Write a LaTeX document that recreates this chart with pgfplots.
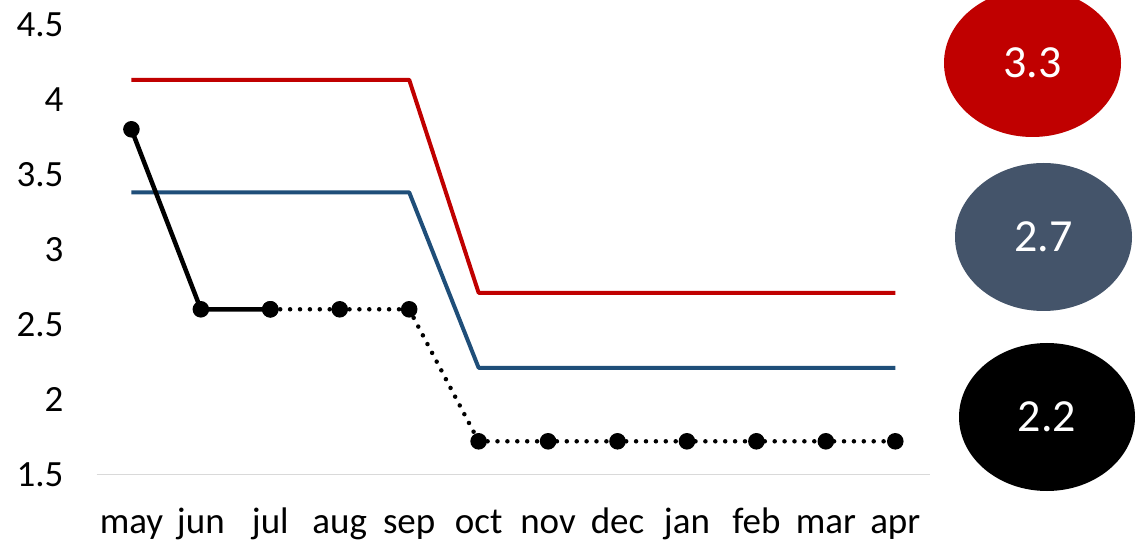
\documentclass[border=0pt]{standalone}
\usepackage{fontspec}
\setmainfont{Carlito}
\usepackage{pgfplots}
\pgfplotsset{compat=1.18}
\usetikzlibrary{shapes.geometric}
\definecolor{cred}{HTML}{C00000}
\definecolor{cblue}{HTML}{1F4E79}
\definecolor{cslate}{HTML}{44546A}
\definecolor{caxis}{HTML}{D9D9D9}
\begin{document}
\begin{tikzpicture}[x=1pt,y=1pt]
\useasboundingbox (0,0) rectangle (1136,-545);
\begin{axis}[
  at={(96.7pt,-474.3pt)}, anchor=south west,
  scale only axis, width=833.3pt, height=450pt,
  xmin=-0.5, xmax=11.5, ymin=1.5, ymax=4.5,
  axis lines*=left, separate axis lines,
  y axis line style={draw=none},
  x axis line style={draw=caxis, line width=1.5pt},
  major tick length=0pt,
  xtick={0,...,11},
  xticklabels={may,jun,jul,aug,sep,oct,nov,dec,jan,feb,mar,apr},
  ytick={1.5,2,2.5,3,3.5,4,4.5},
  /pgf/number format/assume math mode=true,
  tick label style={font=\fontsize{37}{42}\selectfont, inner sep=0pt},
  xticklabel style={anchor=base, yshift=-58.7pt},
  yticklabel style={anchor=east, xshift=-33pt},
]
\addplot[cred, line width=4pt, line join=round] coordinates {
 (0,4.13) (1,4.13) (2,4.13) (3,4.13) (4,4.13) (5,2.71) (6,2.71) (7,2.71) (8,2.71) (9,2.71) (10,2.71) (11,2.71)};
\addplot[cblue, line width=4pt, line join=round] coordinates {
 (0,3.38) (1,3.38) (2,3.38) (3,3.38) (4,3.38) (5,2.21) (6,2.21) (7,2.21) (8,2.21) (9,2.21) (10,2.21) (11,2.21)};
\addplot[black, line width=4.5pt, line cap=round, dash pattern=on 0pt off 9.9pt, mark=*, mark size=6pt, mark options={solid, draw=none, fill=black}] coordinates {
 (2,2.6) (3,2.6) (4,2.6) (5,1.72) (6,1.72) (7,1.72) (8,1.72) (9,1.72) (10,1.72) (11,1.72)};
\addplot[black, line width=4.5pt, line join=round, mark=*, mark size=6pt, mark options={solid, draw=none, fill=black}] coordinates {
 (0,3.8) (1,2.6) (2,2.6)};
\end{axis}
\node[ellipse, fill=cred, minimum width=177pt, minimum height=148pt, inner sep=0pt, text=white, font=\fontsize{46}{52}\selectfont] at (1032.5,-63) {3.3};
\node[ellipse, fill=cslate, minimum width=177pt, minimum height=148pt, inner sep=0pt, text=white, font=\fontsize{46}{52}\selectfont] at (1043.5,-237) {2.7};
\node[ellipse, fill=black, minimum width=176pt, minimum height=148pt, inner sep=0pt, text=white, font=\fontsize{46}{52}\selectfont] at (1047,-417) {2.2};
\end{tikzpicture}
\end{document}
